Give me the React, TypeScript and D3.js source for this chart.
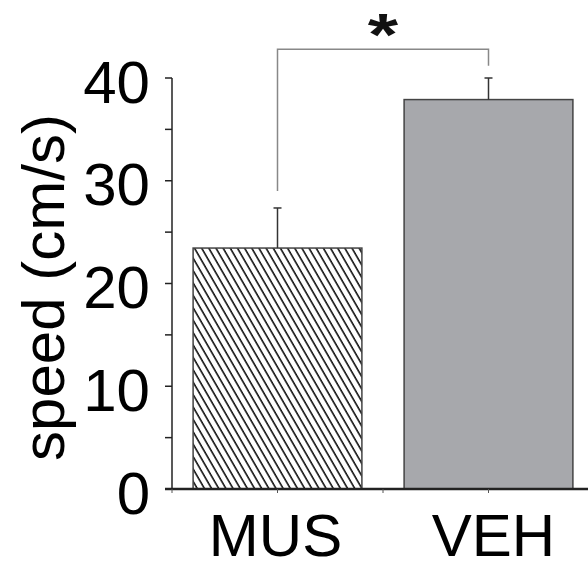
import React, { useEffect, useRef } from "react";
import * as d3 from "d3";

const categories = ["MUS", "VEH"];
const means = [23.45, 37.9];
const sems = [3.9, 2.1];
const yTicks = [0, 10, 20, 30, 40];
const yMinorTicks = [0, 5, 10, 15, 20, 25, 30, 35, 40];
// significance bracket (data units): top, left foot, right foot
const bracketTop = 42.8;
const bracketFeet = [29.0, 41.2];
const sigLabel = "*";
const yLabel = "speed (cm/s)";

export default function App() {
  const svgRef = useRef<SVGSVGElement | null>(null);

  useEffect(() => {
    if (!svgRef.current) return;
    const svg = d3.select(svgRef.current);
    svg.selectAll("*").remove();

    const W = 588;
    const H = 569;
    const font = "'Liberation Sans', Arial, sans-serif";

    const x = d3
      .scaleBand<string>()
      .domain(categories)
      .range([172, 594])
      .paddingInner(0.2)
      .paddingOuter(0.1);

    const y = d3.scaleLinear().domain([0, 40]).range([489, 78]);

    // hatch pattern for MUS
    const defs = svg.append("defs");
    const pat = defs
      .append("pattern")
      .attr("id", "hatch")
      .attr("patternUnits", "userSpaceOnUse")
      .attr("width", 6.2)
      .attr("height", 10)
      .attr("patternTransform", "rotate(-30)");
    pat.append("rect").attr("width", 6.2).attr("height", 10).attr("fill", "#fff");
    pat
      .append("line")
      .attr("x1", 1)
      .attr("x2", 1)
      .attr("y1", 0)
      .attr("y2", 10)
      .attr("stroke", "#111")
      .attr("stroke-width", 1.6);

    svg.append("rect").attr("width", W).attr("height", H).attr("fill", "#fff");

    // bars
    const fills = ["url(#hatch)", "#a7a8ac"];
    categories.forEach((c, i) => {
      svg
        .append("rect")
        .attr("x", x(c)!)
        .attr("y", y(means[i]))
        .attr("width", x.bandwidth())
        .attr("height", y(0) - y(means[i]))
        .attr("fill", fills[i])
        .attr("stroke", "#444")
        .attr("stroke-width", 1.5);
    });

    // error bars (upper only)
    categories.forEach((c, i) => {
      const cx = x(c)! + x.bandwidth() / 2;
      const top = y(means[i] + sems[i]);
      svg
        .append("line")
        .attr("x1", cx)
        .attr("x2", cx)
        .attr("y1", y(means[i]))
        .attr("y2", top)
        .attr("stroke", "#333")
        .attr("stroke-width", 1.5);
      svg
        .append("line")
        .attr("x1", cx - 4)
        .attr("x2", cx + 4)
        .attr("y1", top)
        .attr("y2", top)
        .attr("stroke", "#333")
        .attr("stroke-width", 1.5);
    });

    // significance bracket
    const bx = categories.map((c) => x(c)! + x.bandwidth() / 2);
    svg
      .append("path")
      .attr(
        "d",
        `M${bx[0]},${y(bracketFeet[0])}V${y(bracketTop)}H${bx[1]}V${y(bracketFeet[1])}`
      )
      .attr("fill", "none")
      .attr("stroke", "#888")
      .attr("stroke-width", 1.5);
    svg
      .append("text")
      .attr(
        "transform",
        `translate(${(bx[0] + bx[1]) / 2},${y(bracketTop) + 6}) scale(1.3,1)`
      )
      .attr("text-anchor", "middle")
      .attr("font-family", font)
      .attr("font-weight", "bold")
      .attr("font-size", 60)
      .attr("fill", "#111")
      .text(sigLabel);

    // y axis
    const yAxis = svg.append("g");
    yAxis
      .append("line")
      .attr("x1", 172)
      .attr("x2", 172)
      .attr("y1", y(0))
      .attr("y2", y(40))
      .attr("stroke", "#222")
      .attr("stroke-width", 1.5);
    yAxis
      .selectAll("line.tick")
      .data(yMinorTicks)
      .join("line")
      .attr("class", "tick")
      .attr("x1", 165)
      .attr("x2", 172)
      .attr("y1", (d) => y(d))
      .attr("y2", (d) => y(d))
      .attr("stroke", "#222")
      .attr("stroke-width", 1.5);
    yAxis
      .selectAll("text")
      .data(yTicks)
      .join("text")
      .attr("x", 150)
      .attr("y", (d) => y(d) + 3)
      .attr("dy", "0.36em")
      .attr("text-anchor", "end")
      .attr("font-family", font)
      .attr("font-size", 60)
      .attr("fill", "#000")
      .text((d) => d);

    // x axis
    const step = x.step();
    svg
      .append("line")
      .attr("x1", 165)
      .attr("x2", W)
      .attr("y1", y(0))
      .attr("y2", y(0))
      .attr("stroke", "#222")
      .attr("stroke-width", 2.5);
    svg
      .selectAll("line.xtick")
      .data(d3.range(0, 5))
      .join("line")
      .attr("class", "xtick")
      .attr("x1", (k) => 172 + (k * step) / 2)
      .attr("x2", (k) => 172 + (k * step) / 2)
      .attr("y1", y(0))
      .attr("y2", y(0) + 4)
      .attr("stroke", "#555")
      .attr("stroke-width", 1);
    const labelShift = [-2, 5];
    svg
      .selectAll("text.xlabel")
      .data(categories)
      .join("text")
      .attr("class", "xlabel")
      .attr("x", (c, i) => x(c)! + x.bandwidth() / 2 + labelShift[i])
      .attr("y", 556)
      .attr("text-anchor", "middle")
      .attr("font-family", font)
      .attr("font-size", 60)
      .attr("fill", "#000")
      .text((c) => c);

    // y label
    svg
      .append("text")
      .attr("transform", `translate(64,${(y(0) + y(40)) / 2 + 4}) rotate(-90)`)
      .attr("text-anchor", "middle")
      .attr("font-family", font)
      .attr("font-size", 60)
      .attr("fill", "#000")
      .text(yLabel);
  }, []);

  return (
    <svg
      ref={svgRef}
      width={588}
      height={569}
      style={{ position: "absolute", left: 0, top: 0, display: "block" }}
    />
  );
}
